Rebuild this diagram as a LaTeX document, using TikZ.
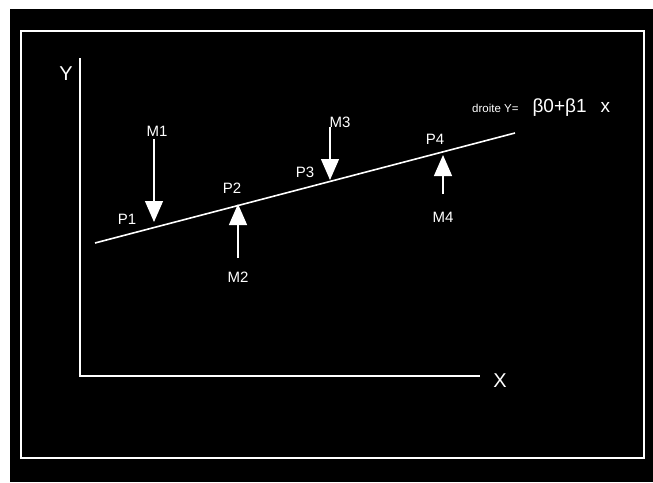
\documentclass[tikz,border=0pt]{standalone}
\usepackage{fontspec}
\setmainfont{Liberation Sans}
\usetikzlibrary{arrows.meta}
\begin{document}
\begin{tikzpicture}[x=1pt,y=-1pt,
 wl/.style={draw=white,line width=1.6pt},
 lbl/.style={text=white,font=\fontsize{15}{15}\selectfont,inner sep=0pt},
 big/.style={text=white,font=\fontsize{20}{20}\selectfont,inner sep=0pt},
 res/.style={draw=white,line width=1.3pt,-{Triangle[width=18pt,length=21pt,fill=white]}}]
\useasboundingbox[fill=white] (0,0) rectangle (653,482);
\fill[black] (10,9) rectangle (653,482);
\draw[wl] (21,31) rectangle (644,458);
% axes
\coordinate (O) at (80,376);
\coordinate (Ytop) at (80,58);
\coordinate (Xend) at (480,376);
\draw[wl] (Ytop) -- (O) -- (Xend);
\node[big] (Y) at (66,74) {Y};
\node[big] (X) at (500,381) {X};
% regression line
\coordinate (L0) at (95,243);
\coordinate (L1) at (515,133);
\draw[wl] (L0) -- (L1);
\node[anchor=base west,inner sep=0pt,text=white] (eq) at (472,112)
 {{\fontsize{11.5}{11.5}\selectfont droite Y=}\hspace{14pt}{\fontsize{19}{19}\selectfont β0+β1\hspace{14pt}x}};
% residual arrows
\coordinate (m1a) at (154,139); \coordinate (p1) at (154,222);
\coordinate (m2a) at (238,258); \coordinate (p2) at (238,204);
\coordinate (m3a) at (330,127); \coordinate (p3) at (330,180);
\coordinate (m4a) at (443,194); \coordinate (p4) at (443,155);
\draw[res] (m1a) -- (p1);
\draw[res] (m2a) -- (p2);
\draw[res] (m3a) -- (p3);
\draw[res] (m4a) -- (p4);
% labels
\node[lbl] (M1) at (157,131) {M1};
\node[lbl] (P1) at (127,219) {P1};
\node[lbl] (M2) at (238,277) {M2};
\node[lbl] (P2) at (232,188) {P2};
\node[lbl] (M3) at (340,122) {M3};
\node[lbl] (P3) at (305,172) {P3};
\node[lbl] (P4) at (435,139) {P4};
\node[lbl] (M4) at (443,217) {M4};
\end{tikzpicture}
\end{document}
